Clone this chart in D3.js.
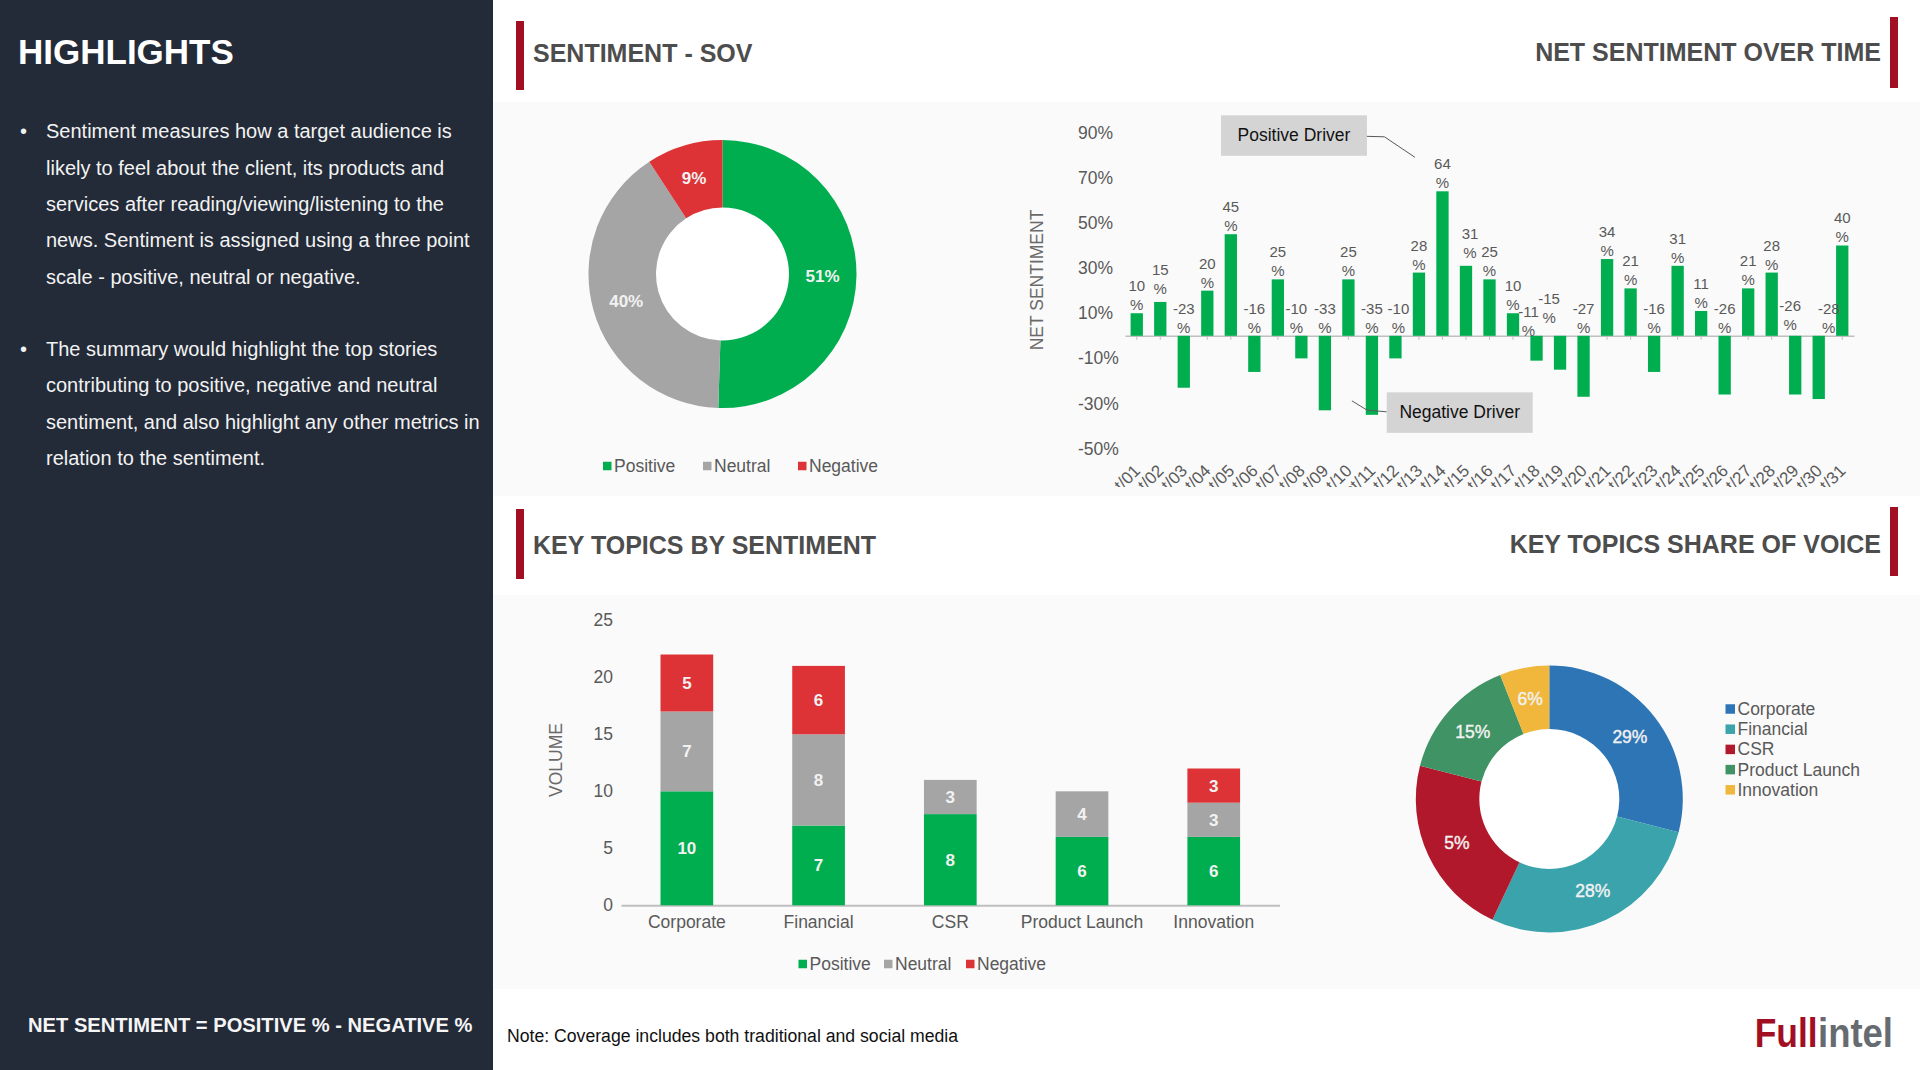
<!DOCTYPE html>
<html>
<head>
  <meta charset="UTF-8">
  <style>
    html, body { margin: 0; padding: 0; background: #fff; }
    svg { display: block; }
    text { font-family: "Liberation Sans", Arial, sans-serif; }
    .axis path, .axis line { stroke: #bfbfbf; }
  </style>
</head>
<body>
<svg></svg>
<script src="https://d3js.org/d3.v7.min.js"></script>
<script>
// ---- data ----
const sovNames = ["Positive", "Neutral", "Negative"];
const sovValues = [50.5, 40.3, 9.2];

const days = ["Oct/01","Oct/02","Oct/03","Oct/04","Oct/05","Oct/06","Oct/07","Oct/08","Oct/09","Oct/10",
  "Oct/11","Oct/12","Oct/13","Oct/14","Oct/15","Oct/16","Oct/17","Oct/18","Oct/19","Oct/20","Oct/21",
  "Oct/22","Oct/23","Oct/24","Oct/25","Oct/26","Oct/27","Oct/28","Oct/29","Oct/30","Oct/31"];
const netValues = [10,15,-23,20,45,-16,25,-10,-33,25,-35,-10,28,64,31,25,10,-11,-15,-27,34,21,-16,31,11,-26,21,28,-26,-28,40];
const netTicks = [90,70,50,30,10,-10,-30,-50];

const topics = ["Corporate","Financial","CSR","Product Launch","Innovation"];
const topicPositive = [10,7,8,6,6];
const topicNeutral = [7,8,3,4,3];
const topicNegative = [5,6,0,0,3];
const volumeTicks = [0,5,10,15,20,25];

const shareValues = [29,28,22,15,6];
const shareLabels = ["29%","28%","5%","15%","6%"];  // the source prints 5% on the 22% slice

const highlightLines = [
  "Sentiment measures how a target audience is",
  "likely to feel about the client, its products and",
  "services after reading/viewing/listening to the",
  "news. Sentiment is assigned using a three point",
  "scale - positive, neutral or negative.",
  "",
  "The summary would highlight the top stories",
  "contributing to positive, negative and neutral",
  "sentiment, and also highlight any other metrics in",
  "relation to the sentiment."
];

// ---- colours ----
const green = "#00ae50", grey = "#a5a5a5", red = "#dd3336", dark = "#232a38", maroon = "#a30f22";
const sentimentColor = d3.scaleOrdinal().domain(sovNames).range([green, grey, red]);
const topicColor = d3.scaleOrdinal().domain(topics).range(["#2e75b6","#3aa3ac","#b2182b","#3f9364","#f0b73c"]);
const textGrey = "#595959";

let svg = d3.select("svg").attr("width", 1920).attr("height", 1070);

// ---- page furniture ----
svg.append("rect").attr("width", 1920).attr("height", 1070).attr("fill", "#fff");
svg.append("rect").attr("width", 493).attr("height", 1070).attr("fill", dark);
svg.append("rect").attr("x", 493).attr("y", 102).attr("width", 1427).attr("height", 394).attr("fill", "#fafafa");
svg.append("rect").attr("x", 493).attr("y", 595).attr("width", 1427).attr("height", 394).attr("fill", "#fafafa");

// red markers beside the section titles
[[516,21,8,69],[1890,17,8,71],[516,509,8,70],[1890,507,8,69]].forEach(r => {
  svg.append("rect").attr("x", r[0]).attr("y", r[1]).attr("width", r[2]).attr("height", r[3]).attr("fill", maroon);
});

function title(txt, x, y, anchor) {
  svg.append("text").attr("x", x).attr("y", y).attr("text-anchor", anchor)
    .attr("font-size", 25).attr("font-weight", "bold").attr("fill", "#4d4d4d").text(txt);
}
title("SENTIMENT - SOV", 533, 62, "start");
title("NET SENTIMENT OVER TIME", 1881, 61, "end");
title("KEY TOPICS BY SENTIMENT", 533, 553.5, "start");
title("KEY TOPICS SHARE OF VOICE", 1881, 552.5, "end");

// sidebar
svg.append("text").attr("x", 18).attr("y", 64).attr("font-size", 35).attr("font-weight", "bold")
  .attr("fill", "#fff").text("HIGHLIGHTS");
let side = svg.append("g").attr("fill", "#f2f2f2").attr("font-size", 20);
side.selectAll("text.line").data(highlightLines).join("text").attr("class", "line")
  .attr("x", 46).attr("y", (d, i) => 138.3 + i * 36.3).text(d => d);
[0, 6].forEach(i => {
  side.append("text").attr("x", 20).attr("y", 138.3 + i * 36.3).text("•");
});
svg.append("text").attr("x", 28).attr("y", 1032).attr("font-size", 20.15).attr("font-weight", "bold")
  .attr("fill", "#f5f5f5").text("NET SENTIMENT = POSITIVE % - NEGATIVE %");

// footer
svg.append("text").attr("x", 507).attr("y", 1042).attr("font-size", 17.65).attr("fill", "#111")
  .text("Note: Coverage includes both traditional and social media");
svg.append("text").attr("x", 1754.7).attr("y", 1047).attr("font-size", 40).attr("font-weight", "bold")
  .attr("textLength", 63).attr("lengthAdjust", "spacingAndGlyphs").attr("fill", maroon).text("Full");
svg.append("text").attr("x", 1818).attr("y", 1047).attr("font-size", 40).attr("font-weight", "bold")
  .attr("textLength", 75).attr("lengthAdjust", "spacingAndGlyphs").attr("fill", "#666b70").text("intel");

function legendItems(rows) {
  rows.forEach(r => {
    svg.append("rect").attr("x", r.x).attr("y", r.y - r.size / 2).attr("width", r.size).attr("height", r.size).attr("fill", r.color);
    svg.append("text").attr("x", r.x + r.size + 2.5).attr("y", r.y + 6).attr("font-size", 17.5).attr("fill", textGrey).text(r.name);
  });
}

// ---- sentiment donut ----
let pie = d3.pie().sort(null);
let sovArc = d3.arc().innerRadius(66.5).outerRadius(134);
let sovLabelArc = d3.arc().innerRadius(100).outerRadius(100);
let sov = svg.append("g").attr("transform", "translate(722.5,274)");
sov.append("circle").attr("r", 66.5).attr("fill", "#fff");
sov.selectAll("path").data(pie(sovValues)).join("path")
  .attr("d", sovArc).attr("fill", (d, i) => sentimentColor(sovNames[i]));
sov.selectAll("text").data(pie(sovValues)).join("text")
  .attr("transform", d => "translate(" + sovLabelArc.centroid(d) + ")")
  .attr("text-anchor", "middle").attr("dy", "0.35em").attr("font-size", 17).attr("font-weight", "bold")
  .attr("fill", "#f2f2f2").text(d => Math.round(d.data) + "%");

legendItems([
  { name: "Positive", x: 603, y: 466, size: 8.5, color: green },
  { name: "Neutral", x: 703, y: 466, size: 8.5, color: grey },
  { name: "Negative", x: 798, y: 466, size: 8.5, color: red }
]);

// ---- net sentiment bars ----
let netX = d3.scaleBand().domain(days).range([1125, 1854]).paddingInner(0.477).paddingOuter(0.2385);
let netY = d3.scaleLinear().domain([-50, 90]).range([448.7, 132.6]);

let netYAxis = svg.append("g").attr("class", "axis").attr("transform", "translate(1078,0)")
  .call(d3.axisLeft(netY).tickValues(netTicks).tickSize(0).tickFormat(d => d + "%"));
netYAxis.select(".domain").remove();
netYAxis.selectAll("text").attr("text-anchor", "start").attr("x", 0)
  .attr("font-size", 17.5).attr("fill", textGrey).style("font-family", '"Liberation Sans"');

svg.append("clipPath").attr("id", "netClip").append("rect")
  .attr("x", 1090).attr("y", 320).attr("width", 800).attr("height", 167);
let netXAxis = svg.append("g").attr("clip-path", "url(#netClip)").append("g").attr("class", "axis")
  .attr("transform", "translate(0," + netY(0) + ")")
  .call(d3.axisBottom(netX).tickSize(4).tickSizeOuter(0));
netXAxis.select(".domain").attr("stroke-width", 1.5);
netXAxis.selectAll("text").attr("text-anchor", "end").attr("x", 0).attr("y", 0).attr("dy", 0)
  .attr("transform", "translate(4.5,136) rotate(-45)")
  .attr("font-size", 17).attr("fill", textGrey).style("font-family", '"Liberation Sans"');

svg.append("g").selectAll("rect").data(netValues).join("rect")
  .attr("x", (d, i) => netX(days[i]))
  .attr("width", netX.bandwidth())
  .attr("y", d => netY(Math.max(d, 0)))
  .attr("height", d => Math.abs(netY(d) - netY(0)))
  .attr("fill", green);

// hand placed label shifts, the source chart moved these to keep them apart
const labelShift = { 1: [0, -5], 7: [-5, 0], 11: [3, 0], 14: [4, -5], 17: [-8, 3], 18: [-11, -10], 28: [-5, -3], 29: [10, 0] };
let netLabels = svg.append("g").attr("font-size", 15).attr("fill", textGrey).attr("text-anchor", "middle")
  .selectAll("text").data(netValues).join("text")
  .attr("transform", (d, i) => {
    let s = labelShift[i] || [0, 0];
    return "translate(" + (netX(days[i]) + netX.bandwidth() / 2 + s[0]) + "," + (netY(Math.max(d, 0)) - 3 + s[1]) + ")";
  });
netLabels.append("tspan").attr("x", 0).attr("y", -19).text(d => d);
netLabels.append("tspan").attr("x", 0).attr("y", 0).text("%");

svg.append("text").attr("transform", "translate(1043,280) rotate(-90)").attr("text-anchor", "middle")
  .attr("font-size", 17.5).attr("fill", "#6a6a6a").text("NET SENTIMENT");

// callouts hang off the bars they point at
function callout(day, value, box, leader, label) {
  let ax = netX(day) + netX.bandwidth() / 2, ay = netY(value);
  let g = svg.append("g").attr("transform", "translate(" + ax + "," + ay + ")");
  g.append("path").attr("d", d3.line()(leader)).attr("fill", "none").attr("stroke", "#595959").attr("stroke-width", 1);
  g.append("rect").attr("x", box[0]).attr("y", box[1]).attr("width", 146).attr("height", 40.5).attr("fill", "#d4d4d4");
  g.append("text").attr("x", box[0] + 73).attr("y", box[1] + 26).attr("text-anchor", "middle")
    .attr("font-size", 17.5).attr("fill", "#111").text(label);
}
callout("Oct/14", 64, [-221.5, -76], [[-76.5, -55], [-58, -54.5], [-27.5, -34]], "Positive Driver");
callout("Oct/11", -35, [14.8, -22.5], [[14.8, -3], [-5, -4.8], [-20, -14]], "Negative Driver");

// ---- key topics stacked bars ----
let topicX = d3.scaleBand().domain(topics).range([621, 1279.6]).paddingInner(0.6).paddingOuter(0.3);
let topicY = d3.scaleLinear().domain([0, 25]).range([905.3, 620.3]);
let seriesNames = ["Positive", "Neutral", "Negative"];
let stackRows = topics.map((t, i) => ({ topic: t, Positive: topicPositive[i], Neutral: topicNeutral[i], Negative: topicNegative[i] }));
let stacked = d3.stack().keys(seriesNames)(stackRows);

let topicYAxis = svg.append("g").attr("class", "axis").attr("transform", "translate(613,0)")
  .call(d3.axisLeft(topicY).tickValues(volumeTicks).tickSize(0));
topicYAxis.select(".domain").remove();
topicYAxis.selectAll("text").attr("x", 0).attr("font-size", 17.5).attr("fill", textGrey).style("font-family", '"Liberation Sans"');

let topicXAxis = svg.append("g").attr("class", "axis").attr("transform", "translate(0," + topicY(0) + ")")
  .call(d3.axisBottom(topicX).tickSize(0).tickSizeOuter(0));
topicXAxis.select(".domain").attr("stroke-width", 2);
topicXAxis.selectAll("text").attr("y", 22.7).attr("dy", 0).attr("font-size", 17.5).attr("fill", textGrey).style("font-family", '"Liberation Sans"');

let layers = svg.append("g").selectAll("g").data(stacked).join("g").attr("fill", d => sentimentColor(d.key));
layers.selectAll("rect").data(d => d).join("rect")
  .attr("x", d => topicX(d.data.topic))
  .attr("width", topicX.bandwidth())
  .attr("y", d => topicY(d[1]))
  .attr("height", d => topicY(d[0]) - topicY(d[1]));
layers.selectAll("text").data(d => d.filter(p => p[1] > p[0])).join("text")
  .attr("x", d => topicX(d.data.topic) + topicX.bandwidth() / 2)
  .attr("y", d => topicY((d[0] + d[1]) / 2))
  .attr("dy", "0.35em").attr("text-anchor", "middle").attr("font-size", 17).attr("font-weight", "bold")
  .attr("fill", "#f2f2f2").text(d => d[1] - d[0]);

svg.append("text").attr("transform", "translate(562,760) rotate(-90)").attr("text-anchor", "middle")
  .attr("font-size", 17.5).attr("fill", "#6a6a6a").text("VOLUME");

legendItems([
  { name: "Positive", x: 798.5, y: 964, size: 8.5, color: green },
  { name: "Neutral", x: 884, y: 964, size: 8.5, color: grey },
  { name: "Negative", x: 966, y: 964, size: 8.5, color: red }
]);

// ---- share of voice donut ----
let shareArc = d3.arc().innerRadius(70).outerRadius(133.5);
let shareLabelArc = d3.arc().innerRadius(102).outerRadius(102);
let share = svg.append("g").attr("transform", "translate(1549.3,799)");
share.append("circle").attr("r", 70).attr("fill", "#fff");
share.selectAll("path").data(pie(shareValues)).join("path")
  .attr("d", shareArc).attr("fill", (d, i) => topicColor(topics[i]));
share.selectAll("text").data(pie(shareValues)).join("text")
  .attr("transform", d => "translate(" + shareLabelArc.centroid(d) + ")")
  .attr("text-anchor", "middle").attr("dy", "0.35em").attr("font-size", 17.5)
  .attr("fill", "#f2f2f2").attr("stroke", "#f2f2f2").attr("stroke-width", 0.4).text((d, i) => shareLabels[i]);

legendItems(topics.map((t, i) => ({ name: t, x: 1725.5, y: 709 + i * 20.2, size: 9.5, color: topicColor(t) })));
</script>
</body>
</html>
